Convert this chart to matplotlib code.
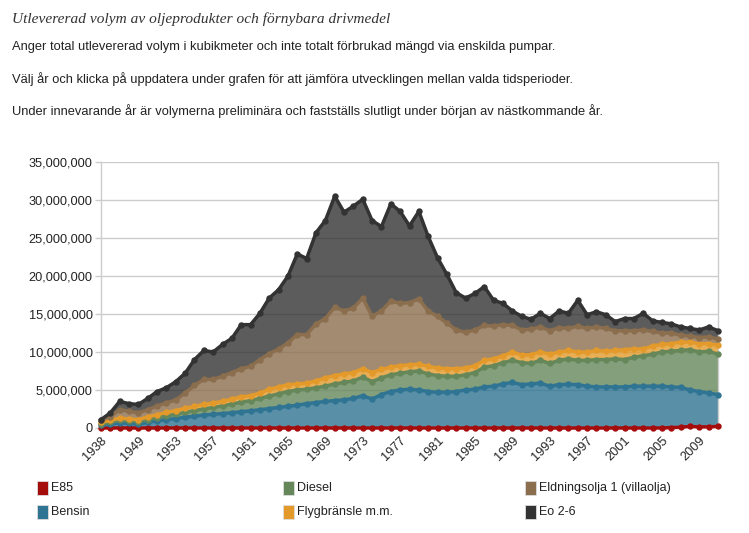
import numpy as np
import matplotlib.pyplot as plt
from matplotlib.patches import Rectangle
from matplotlib.ticker import FuncFormatter

# years on the category axis (1939-1945 missing in the source)
years = [1938] + list(range(1946, 2012))

# delivered volume, million m3
e85 = [0.0] * 60 + [0.01, 0.05, 0.10, 0.20, 0.14, 0.15, 0.20]

bensin = [0.35, 0.50, 0.70, 0.60, 0.50, 0.75, 0.95, 1.10, 1.25, 1.40,
          1.55, 1.70, 1.80, 1.90, 2.00, 2.15, 2.25, 2.40, 2.55, 2.70,
          2.85, 3.00, 3.20, 3.35, 3.50, 3.60, 3.70, 3.90, 4.25, 3.80,
          4.40, 4.80, 5.00, 5.10, 5.00, 4.80, 4.70, 4.70, 4.80, 5.00,
          5.10, 5.40, 5.50, 5.80, 6.00, 5.70, 5.80, 5.90, 5.50, 5.70,
          5.75, 5.70, 5.50, 5.40, 5.40, 5.40, 5.40, 5.50, 5.50, 5.50,
          5.49, 5.35, 5.25, 4.80, 4.66, 4.45, 4.20]

diesel = [0.20, 0.25, 0.30, 0.35, 0.35, 0.35, 0.40, 0.50, 0.55, 0.65,
          0.75, 0.80, 0.90, 1.00, 1.15, 1.25, 1.35, 1.50, 1.65, 1.80,
          1.95, 2.00, 1.90, 1.95, 2.00, 2.20, 2.30, 2.30, 2.45, 2.30,
          2.20, 2.20, 2.20, 2.30, 2.50, 2.30, 2.20, 2.10, 2.00, 2.00,
          2.20, 2.60, 2.70, 2.80, 2.90, 2.90, 2.70, 3.00, 3.00, 3.20,
          3.35, 3.20, 3.40, 3.60, 3.60, 3.70, 3.60, 3.80, 4.00, 4.20,
          4.50, 4.70, 4.85, 5.30, 5.20, 5.50, 5.30]

flyg = [0.20, 0.25, 0.30, 0.25, 0.25, 0.35, 0.40, 0.45, 0.50, 0.55,
        0.55, 0.60, 0.60, 0.60, 0.65, 0.70, 0.65, 0.70, 0.90, 0.90,
        0.90, 0.80, 0.80, 0.90, 1.10, 1.10, 1.10, 1.10, 1.10, 1.20,
        1.10, 1.00, 1.00, 0.90, 0.90, 1.00, 1.00, 1.00, 1.00, 0.90,
        0.90, 0.90, 0.90, 0.90, 1.10, 1.00, 1.15, 1.10, 1.20, 1.10,
        1.10, 1.10, 1.10, 1.20, 1.10, 1.10, 1.30, 1.10, 0.90, 1.10,
        1.00, 1.00, 1.10, 1.00, 1.10, 1.00, 1.20]

eo1 = [0.25, 0.50, 1.10, 1.00, 0.90, 0.95, 1.15, 1.25, 1.40, 2.00,
       2.75, 3.30, 3.10, 3.30, 3.50, 3.70, 3.85, 4.40, 4.70, 5.00,
       5.50, 6.50, 6.40, 7.50, 7.80, 9.00, 8.30, 8.50, 9.30, 7.40,
       7.70, 8.70, 8.20, 8.20, 8.60, 7.30, 6.80, 6.00, 5.10, 4.70,
       4.70, 4.60, 4.30, 4.10, 3.50, 3.30, 3.35, 3.30, 3.10, 3.20,
       2.90, 3.40, 3.10, 3.10, 3.00, 2.60, 2.50, 2.40, 2.50, 1.90,
       1.50, 1.40, 0.90, 0.80, 0.80, 0.90, 0.80]

eo26 = [0.10, 0.50, 1.10, 1.00, 1.10, 1.50, 1.90, 2.00, 2.40, 2.60,
        3.40, 3.80, 3.60, 4.20, 4.50, 5.80, 5.50, 6.10, 7.30, 7.80,
        8.80, 10.60, 10.00, 12.00, 12.90, 14.60, 13.00, 13.40, 13.00, 12.60,
        11.10, 12.80, 12.10, 10.10, 11.50, 9.80, 7.70, 6.40, 4.90, 4.50,
        4.80, 5.10, 3.40, 2.80, 1.90, 1.80, 1.30, 1.80, 1.60, 2.20,
        2.00, 3.40, 1.80, 2.00, 1.80, 1.20, 1.60, 1.60, 2.20, 1.40,
        1.40, 1.20, 1.10, 1.00, 1.00, 1.30, 1.10]

labels = ['E85', 'Bensin', 'Diesel', 'Flygbränsle m.m.',
          'Eldningsolja 1 (villaolja)', 'Eo 2-6']
colors = ['#a50d0d', '#2f7493', '#65875a', '#e39a2b', '#8b6e4e', '#333333']

series = np.array([e85, bensin, diesel, flyg, eo1, eo26]) * 1e6
x = np.arange(len(years))

W, H = 749, 533
fig = plt.figure(figsize=(W / 100, H / 100), dpi=100)

# header texts
fig.text(12 / W, 1 - 19 / H, 'Utlevererad volym av oljeprodukter och förnybara drivmedel',
         family='Liberation Serif', style='italic', fontsize=11.1, color='#333333', va='center')
body = ['Anger total utlevererad volym i kubikmeter och inte totalt förbrukad mängd via enskilda pumpar.',
        'Välj år och klicka på uppdatera under grafen för att jämföra utvecklingen mellan valda tidsperioder.',
        'Under innevarande år är volymerna preliminära och fastställs slutligt under början av nästkommande år.']
for k, line in enumerate(body):
    fig.text(12 / W, 1 - (47 + 32 * k) / H, line, family='Liberation Sans',
             fontsize=9.25, color='#222222', va='center')

ax = fig.add_axes([101 / W, 1 - 428 / H, 617 / W, 266 / H])
ax.set_axisbelow(True)
ax.stackplot(x, series, colors=colors, alpha=0.8, linewidth=0)
tops = np.cumsum(series, axis=0)
for top, c in zip(tops, colors):
    ax.plot(x, top, color=c, lw=2.5, marker='o', ms=4.6, mew=0,
            solid_joinstyle='round', clip_on=False, zorder=3)

ax.set_xlim(0, len(years) - 1)
ax.set_ylim(0, 35e6)
ax.set_yticks(np.arange(0, 35e6 + 1, 5e6))
ax.yaxis.set_major_formatter(FuncFormatter(lambda v, p: f'{int(v):,}'))
ax.grid(axis='y', color='#cccccc', lw=1)
ax.set_xticks(x[::4])
ax.set_xticklabels([str(y) for y in years[::4]], rotation=45, ha='right',
                   rotation_mode='anchor')
ax.tick_params(axis='x', length=0, pad=5, labelsize=9.2, labelcolor='#222222')
ax.tick_params(axis='y', length=4, color='#cccccc', width=1, pad=2,
               labelsize=9.2, labelcolor='#222222')
for lab in ax.get_xticklabels() + ax.get_yticklabels():
    lab.set_family('Liberation Sans')
for side in ['top', 'bottom']:
    ax.spines[side].set_visible(False)
for side in ['left', 'right']:
    ax.spines[side].set_color('#cccccc')
    ax.spines[side].set_linewidth(1)

# legend, three columns of two rows
col_x = [37, 283, 525]
row_y = [488, 512]
for k, (lab, c) in enumerate(zip(labels, colors)):
    cx = col_x[k // 2]
    cy = row_y[k % 2]
    fig.patches.append(Rectangle((cx / W, 1 - (cy + 7) / H), 11 / W, 14 / H,
                                 transform=fig.transFigure, facecolor=c,
                                 edgecolor='#dddddd', lw=0.6))
    fig.text((cx + 14) / W, 1 - cy / H, lab, family='Liberation Sans',
             fontsize=9.0, color='#222222', va='center')

fig.savefig('out.png', dpi=100)
